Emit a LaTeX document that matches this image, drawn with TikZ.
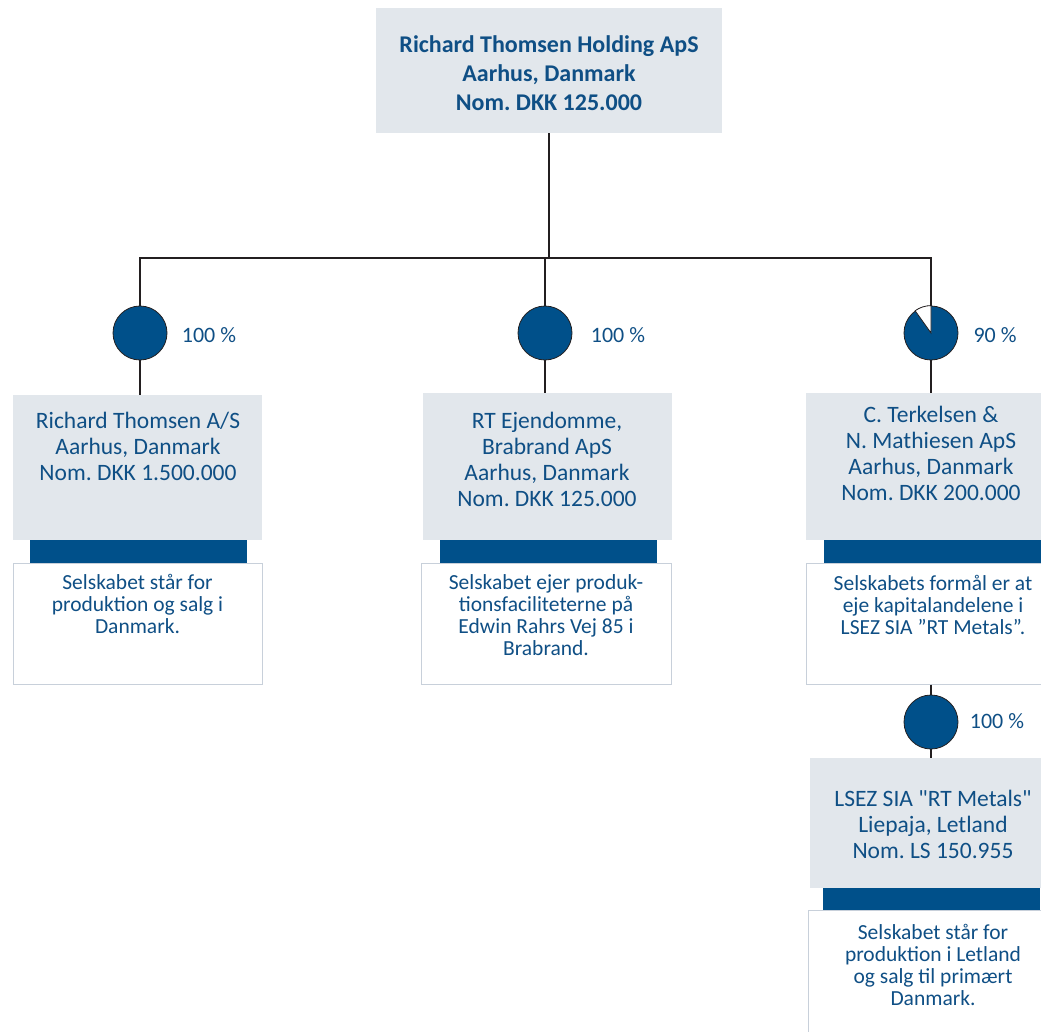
\documentclass[tikz,border=0pt]{standalone}
\usepackage{fontspec}
\setmainfont{Carlito}
\newfontfamily\plainquote{Carlito}
\usetikzlibrary{positioning}
\definecolor{CGray}{HTML}{E2E7EC}
\definecolor{CBlue}{HTML}{00508A}
\definecolor{CText}{HTML}{0F4F85}
\definecolor{CEdge}{HTML}{C8D0DA}
\definecolor{CLine}{HTML}{231F20}
\frenchspacing
\begin{document}
\begin{tikzpicture}[x=1pt, y=-1pt,
  every node/.style={text=CText, font=\fontsize{23.5}{26}\selectfont},
  firma/.style={fill=CGray, minimum width=249pt, inner sep=0pt},
  bar/.style={fill=CBlue, minimum width=217pt, minimum height=23pt, inner sep=0pt},
  note/.style={fill=white, draw=CEdge, line width=1pt, minimum width=249pt,
               minimum height=121pt, inner sep=0pt},
  txt/.style={align=center, inner sep=0pt},
  notetxt/.style={align=center, inner sep=0pt, font=\fontsize{21.5}{22}\selectfont},
  share/.style={circle, draw=CLine, line width=0.8pt, fill=CBlue,
                minimum size=54pt, inner sep=0pt},
  pct/.style={font=\fontsize{22}{22}\selectfont, inner sep=0pt},
  conn/.style={draw=CLine, line width=2pt}]
\useasboundingbox (0,0) rectangle (1041,1032);
\clip (0,0) rectangle (1041,1032);
% holding
\node[firma, minimum width=346pt, minimum height=125pt] (holdbox) at (549,70.5) {};
\node[txt, font=\bfseries\fontsize{24}{29}\selectfont] (hold) at (549,73)
  {Richard Thomsen Holding ApS\\Aarhus, Danmark\\Nom. DKK 125.000};
% Richard Thomsen A/S
\node[firma, minimum height=145pt] (rtbox) at (137.5,467.5) {};
\node[txt] (rt) at (138,446) {Richard Thomsen A/S\\Aarhus, Danmark\\Nom. DKK 1.500.000};
\node[bar] (rtbar) at (138.5,551.5) {};
\node[note] (rtnote) at (137.5,623.5) {};
\node[notetxt] (rtdesc) at (137.5,604) {Selskabet står for\\produktion og salg i\\Danmark.};
% RT Ejendomme
\node[firma, minimum height=147pt] (ejbox) at (547.5,466.5) {};
\node[txt] (ej) at (547,459) {RT Ejendomme,\\Brabrand ApS\\Aarhus, Danmark\\Nom. DKK 125.000};
\node[bar] (ejbar) at (548.5,551.5) {};
\node[note, minimum width=250pt] (ejnote) at (546,623.5) {};
\node[notetxt] (ejdesc) at (546,615)
  {Selskabet ejer produk-\\tionsfaciliteterne på\\Edwin Rahrs Vej 85 i\\Brabrand.};
% C. Terkelsen & N. Mathiesen
\node[firma, minimum height=147pt] (tmbox) at (930.5,466.5) {};
\node[txt] (tm) at (931,453) {C. Terkelsen \&\\N. Mathiesen ApS\\Aarhus, Danmark\\Nom. DKK 200.000};
\node[bar] (tmbar) at (932.5,551.5) {};
\node[note] (tmnote) at (930.5,623.5) {};
\node[notetxt] (tmdesc) at (933,605)
  {Selskabets formål er at\\eje kapitalandelene i\\LSEZ SIA ”RT Metals”.};
% LSEZ SIA RT Metals
\node[firma, minimum height=130pt] (lsbox) at (934.5,823) {};
\node[txt] (ls) at (933,824) {LSEZ SIA {\plainquote"RT Metals"}\\Liepaja, Letland\\Nom. LS 150.955};
\node[bar, minimum height=22pt] (lsbar) at (931.5,899) {};
\node[note, minimum height=124pt] (lsnote) at (932.5,972) {};
\node[notetxt] (lsdesc) at (933,965)
  {Selskabet står for\\produktion i Letland\\og salg til primært\\Danmark.};
% ownership
\node[share] (p1) at (140,333) {};
\node[share] (p2) at (545,333) {};
\node[share] (p3) at (931,333) {};
\node[share] (p4) at (931,722) {};
\filldraw[fill=white, draw=CLine, line width=0.8pt]
  (p3.center) -- (p3.90) arc[start angle=90, end angle=126, radius=27pt] -- cycle;
\node[pct] (p1l) at (209,335) {100 \%};
\node[pct] (p2l) at (618,335) {100 \%};
\node[pct] (p3l) at (995,335) {90 \%};
\node[pct] (p4l) at (997,721) {100 \%};
% lines
\coordinate (bus) at (549,258);
\draw[conn] (holdbox) -- (bus);
\foreach \p in {p1,p2,p3} {\draw[conn] (bus) -| (\p);}
\draw[conn] (p1) -- (p1 |- rtbox.north);
\draw[conn] (p2) -- (p2 |- ejbox.north);
\draw[conn] (p3) -- (p3 |- tmbox.north);
\draw[conn] (p4 |- tmnote.south) -- (p4);
\draw[conn] (p4) -- (p4 |- lsbox.north);
\end{tikzpicture}
\end{document}
